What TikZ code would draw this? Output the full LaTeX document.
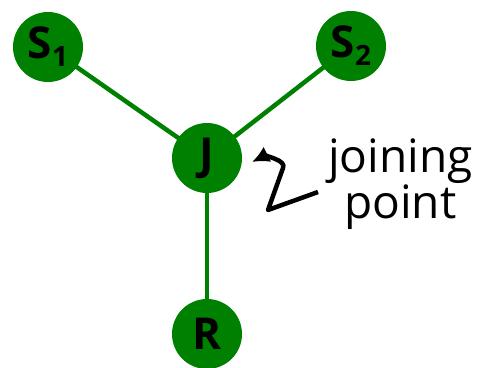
\documentclass[tikz,border=0pt]{standalone}
\usepackage{fontspec}
\setmainfont{Open Sans}
\usepackage{tikz}
\usetikzlibrary{positioning,arrows.meta,backgrounds}
\definecolor{treegreen}{HTML}{008000}
\tikzset{
  site/.style={circle,fill=treegreen,minimum size=70pt,inner sep=0pt,outer sep=0pt,
    font=\fontsize{44}{44}\selectfont\bfseries},
  link/.style={draw=treegreen,line width=4.5pt},
  note/.style={align=center,inner sep=0pt,font=\fontsize{46}{46}\selectfont},
  pointer/.style={-{Latex[length=17pt,width=17pt]},line width=4.5pt,line join=round},
}
\newcommand{\sub}[1]{\raisebox{-8pt}{\fontsize{28}{28}\selectfont #1}}

\begin{document}
\begin{tikzpicture}
\useasboundingbox (-207pt,158pt) rectangle (272pt,-209pt);
\node[site] (J) at (0,0) {J};
\node[site, above left=61.5pt and 109.5pt of J] (s1) {S\sub{1}};
\node[site, above right=62.5pt and 94.5pt of J] (s2) {S\sub{2}};
\node[site, below=106pt of J] (R) {R};
% tree edges sit behind the discs
\begin{scope}[on background layer]
\draw[link] (s1.center) -- (J.center) -- (s2.center);
\draw[link] (J.center) -- (R.center);
\end{scope}
\node[note, right=86pt of J, yshift=-26pt] (lbl) {joining\\point};
\coordinate (tip) at ([xshift=10pt,yshift=-4pt]J.east);
\coordinate (tail) at ([xshift=-10pt,yshift=-8pt]lbl.west);
\draw[pointer] (tail) -- ++(-50pt,-18pt) -- ++(15pt,42pt)
  .. controls ++(4pt,8pt) and ++(12pt,6pt) .. (tip);
\end{tikzpicture}
\end{document}
